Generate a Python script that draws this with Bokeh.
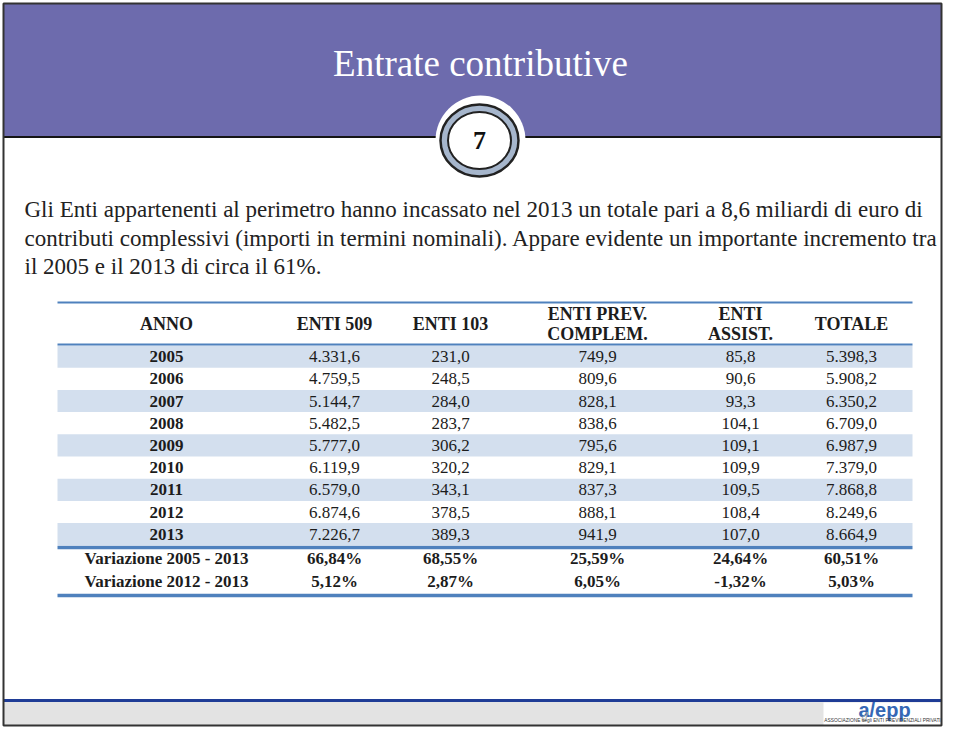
from bokeh.plotting import figure
from bokeh.models import Range1d
from bokeh.core.properties import value
from bokeh.embed import file_html
from bokeh.resources import INLINE

# ---------------- data ----------------
title = "Entrate contributive"
slide_no = "7"
paragraph = [
    "Gli Enti appartenenti al perimetro hanno incassato nel 2013 un totale pari a 8,6 miliardi di euro di",
    "contributi complessivi (importi in termini nominali). Appare evidente un importante incremento tra",
    "il 2005 e il 2013 di circa il 61%.",
]
headers = ["ANNO", "ENTI 509", "ENTI 103", "ENTI PREV.\nCOMPLEM.", "ENTI\nASSIST.", "TOTALE"]
years = [2005, 2006, 2007, 2008, 2009, 2010, 2011, 2012, 2013]
enti_509 = [4331.6, 4759.5, 5144.7, 5482.5, 5777.0, 6119.9, 6579.0, 6874.6, 7226.7]
enti_103 = [231.0, 248.5, 284.0, 283.7, 306.2, 320.2, 343.1, 378.5, 389.3]
prev_complem = [749.9, 809.6, 828.1, 838.6, 795.6, 829.1, 837.3, 888.1, 941.9]
enti_assist = [85.8, 90.6, 93.3, 104.1, 109.1, 109.9, 109.5, 108.4, 107.0]
totale = [5398.3, 5908.2, 6350.2, 6709.0, 6987.9, 7379.0, 7868.8, 8249.6, 8664.9]
var_labels = ["Variazione 2005 - 2013", "Variazione 2012 - 2013"]
var_2005_2013 = [66.84, 68.55, 25.59, 24.64, 60.51]
var_2012_2013 = [5.12, 2.87, 6.05, -1.32, 5.03]
logo_main = "a/epp"
logo_d = "d"
logo_sub = "ASSOCIAZIONE degli ENTI PREVIDENZIALI PRIVATI"

# ---------------- layout constants ----------------
SERIF = value("Liberation Serif")
SANS = value("Liberation Sans")
TXT = "#1c1c1c"
BLUE_RULE = "#4F81BD"
BAND = "#D3DFEE"
W, H = 944, 727
L, R, T, B = 3, 941, 3, 725
col_x = [166, 334, 450, 597, 740, 851]
tab_left, tab_right = 57, 912
row_top0, row_h = 345.0, 22.2


def it_num(v):
    return f"{v:,.1f}".replace(",", "X").replace(".", ",").replace("X", ".")


def it_pct(v):
    return f"{v:.2f}".replace(".", ",") + "%"


p = figure(width=W, height=H, x_range=Range1d(0, W), y_range=Range1d(H, 0),
           output_backend="svg", toolbar_location=None, min_border=0,
           x_axis_location=None, y_axis_location=None)
p.grid.visible = False
p.outline_line_color = None
p.background_fill_color = "white"
p.border_fill_color = "white"

# header band
p.quad(left=[L], right=[R], top=[T], bottom=[136], fill_color="#6D6BAD", line_color=None)
p.segment(x0=[L], y0=[136.5], x1=[R], y1=[136.5], line_color="#151515", line_width=2.2)
p.text(x=[480], y=[63], text=[title], text_font=SERIF, text_font_size="37px",
       text_color="white", text_align="center", text_baseline="middle")

# slide number badge
p.ellipse(x=[480], y=[140], width=[90], height=[90], fill_color="white", line_color=None)
p.ellipse(x=[479], y=[140], width=[78], height=[72], fill_color="#A6B6CC",
          line_color="#222222", line_width=2.5)
p.ellipse(x=[479], y=[140], width=[63], height=[57], fill_color="white",
          line_color="#222222", line_width=2)
p.text(x=[479], y=[140], text=[slide_no], text_font=SERIF, text_font_size="26px",
       text_font_style="bold", text_color="#111111", text_align="center", text_baseline="middle")

# paragraph
para_y = [209 + 28.5 * i for i in range(len(paragraph))]
p.text(x=[24] * len(paragraph), y=para_y, text=paragraph, text_font=SERIF,
       text_font_size="23px", text_color="#222222", text_align="left", text_baseline="middle")

# table bands
band_rows = [i for i in range(len(years)) if i % 2 == 0]
p.quad(left=[tab_left] * len(band_rows), right=[tab_right] * len(band_rows),
       top=[row_top0 + row_h * i for i in band_rows],
       bottom=[row_top0 + row_h * (i + 1) for i in band_rows],
       fill_color=BAND, line_color=None)

# rules
p.segment(x0=[tab_left], y0=[302], x1=[tab_right], y1=[302], line_color=BLUE_RULE, line_width=2)
p.segment(x0=[tab_left], y0=[344], x1=[tab_right], y1=[344], line_color=BLUE_RULE, line_width=1.8)
p.segment(x0=[tab_left, tab_left], y0=[547, 595], x1=[tab_right, tab_right], y1=[547, 595],
          line_color=BLUE_RULE, line_width=3.5)

# header text
hx, hy, ht = [], [], []
for c, h in enumerate(headers):
    lines = h.split("\n")
    if len(lines) == 1:
        hx.append(col_x[c]); hy.append(323.5); ht.append(lines[0])
    else:
        for k, ln in enumerate(lines):
            hx.append(col_x[c]); hy.append(313 + 20.5 * k); ht.append(ln)
p.text(x=hx, y=hy, text=ht, text_font=SERIF, text_font_size="18px", text_font_style="bold",
       text_color=TXT, text_align="center", text_baseline="middle")

# body
row_y = [row_top0 + row_h * i + row_h / 2 for i in range(len(years))]
p.text(x=[col_x[0]] * len(years), y=row_y, text=[str(y) for y in years], text_font=SERIF,
       text_font_size="17px", text_font_style="bold", text_color=TXT,
       text_align="center", text_baseline="middle")
bx, by, bt = [], [], []
for c, series in enumerate([enti_509, enti_103, prev_complem, enti_assist, totale], start=1):
    for r, v in enumerate(series):
        bx.append(col_x[c]); by.append(row_y[r]); bt.append(it_num(v))
p.text(x=bx, y=by, text=bt, text_font=SERIF, text_font_size="17px", text_color=TXT,
       text_align="center", text_baseline="middle")

# variation rows
var_y = [557.5, 581]
vx, vy, vt = [], [], []
for r, series in enumerate([var_2005_2013, var_2012_2013]):
    vx.append(col_x[0]); vy.append(var_y[r]); vt.append(var_labels[r])
    for c, v in enumerate(series, start=1):
        vx.append(col_x[c]); vy.append(var_y[r]); vt.append(it_pct(v))
p.text(x=vx, y=vy, text=vt, text_font=SERIF, text_font_size="17px", text_font_style="bold",
       text_color=TXT, text_align="center", text_baseline="middle")

# footer
p.quad(left=[L], right=[R], top=[701], bottom=[B], fill_color="#E3E3E3", line_color=None)
p.quad(left=[823], right=[R], top=[702], bottom=[B], fill_color="white", line_color=None)
p.segment(x0=[L], y0=[700], x1=[R], y1=[700], line_color="#1F3C96", line_width=3)
p.text(x=[884], y=[709], text=[logo_main], text_font=SANS, text_font_size="20px",
       text_font_style="bold", text_color="#3567B5", text_align="center", text_baseline="middle")
p.text(x=[864], y=[716], text=[logo_d], text_font=SERIF, text_font_size="13px",
       text_font_style="italic", text_color="#AAAAAA", text_align="center", text_baseline="middle")
p.text(x=[882], y=[720], text=[logo_sub], text_font=SANS, text_font_size="4.8px",
       text_color="#333333", text_align="center", text_baseline="middle")

# slide frame
p.quad(left=[L], right=[R], top=[T], bottom=[B], fill_color=None,
       line_color="#333333", line_width=2)

open("out.html", "w").write(file_html(p, INLINE))
